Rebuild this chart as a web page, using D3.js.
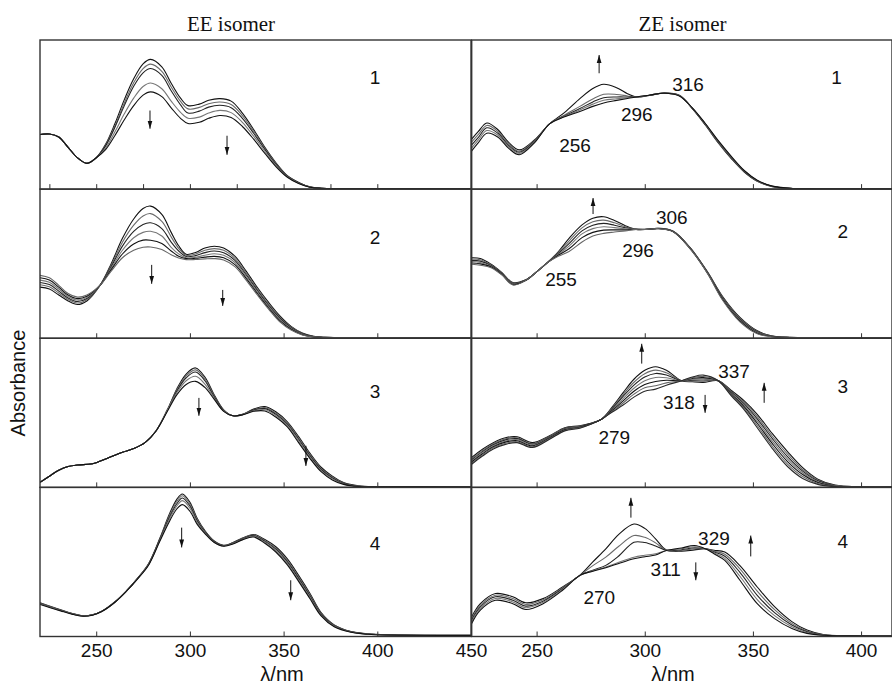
<!DOCTYPE html>
<html>
<head>
<meta charset="utf-8">
<script src="https://cdn.jsdelivr.net/npm/d3@7"></script>
<style>
  body { margin: 0; background: #fff; }
  svg { display: block; }
  .tick text { font-family: "Liberation Sans", Arial, sans-serif; font-size: 19px; fill: #111; }
  .tick line { stroke: #333; }
</style>
</head>
<body>
<svg id="chart" width="892" height="687"></svg>
<script>
// ---- data: absorbance in % of panel height ----
const wlEE1 = [220,225,230,235,240,245,250,255,260,265,270,275,279,285,290,295,299,305,310,316,322,328,334,340,346,352,358,364,370,380,400,450];
const absEE1 = [
  [36.6,37,35,28,21,17.3,21,30,44,60,74,84,87,82,71,61,56,57,59.6,60.7,59,51,40,28,17.5,9,4.5,1.5,0.6,0.4,0.4,0.3],
  [36.6,37,35,28,21,17.3,21,29.5,42.5,57.8,71.3,80.8,83.8,79,68.5,58.8,53.8,54.8,57.3,58.4,56.8,49.3,38.8,27.3,17,8.8,4.3,1.5,0.6,0.4,0.4,0.3],
  [36.6,37,35,28,21,17.3,21,29,41.5,56,69,78,80.9,76.3,66,56.5,51,52.3,55,56.2,54.6,47.5,37.5,26.6,16.5,8.6,4.2,1.4,0.6,0.4,0.4,0.3],
  [36.6,37,35,28,21,17.3,21,27.5,38.5,50.5,61,68.8,71.2,67.3,59,51.5,47.5,48.3,51,52.8,51.3,44.8,35.5,25.4,15.8,8.3,4,1.4,0.6,0.4,0.4,0.3],
  [36.6,37,35,28,21,17.3,21,26.5,36,46.5,56,63,65.2,62,54.5,47.5,44,44.8,47.5,49.4,48,42,33.5,24,15,8,3.8,1.3,0.6,0.4,0.4,0.3]
];

const wlEE2 = [220,225,230,235,240,245,252,258,264,270,275,279,285,290,294,298,303,308,313,318,324,330,336,342,348,354,360,366,372,380,400,450];
const absEE2 = [
  [34.3,33,29,25,22.6,25,35.4,50,67,80,87,88.6,83,71,62,56.3,57.5,60.5,61.7,60.5,55,45,34,24,15,8,3.5,1.3,0.6,0.5,0.4,0.3],
  [35.9,34.5,30.3,26,23.6,25.8,35.4,49,64.4,75.8,82,83.6,78.3,68,60.3,55.6,56.5,59,60.1,59,53.6,43.8,33,23,14.2,7.5,3.2,1.2,0.6,0.5,0.4,0.3],
  [37.4,36,31.6,27,24.6,26.6,35.4,48,61.8,71.6,76.3,77.4,73.5,64.5,58.5,54.8,55.4,57.4,58.5,57.4,52.2,42.6,32,22,13.4,7,3,1.1,0.6,0.5,0.4,0.3],
  [39,37.5,33,28,25.6,27.4,35.4,47,59,67.4,71,71.7,68.6,61,56.6,54,54.3,55.7,56.7,55.6,50.8,41.4,31,21.2,12.6,6.5,2.7,1,0.5,0.5,0.4,0.3],
  [40.6,39,34.3,29,26.6,28.2,35.4,46,56.5,63.2,65.8,65.7,63.5,58.5,55,53.4,53.6,54.4,54.9,54,49.4,40.2,30,20.3,11.8,6,2.4,0.9,0.5,0.4,0.4,0.3],
  [42.2,40.5,35.5,30,27.6,29,35.4,45,54,59,61,61.2,59.5,56,53.8,52.7,52.8,53.2,53.4,52.5,48,39,29,19.5,11,5.5,2.2,0.9,0.5,0.4,0.4,0.3]
];

const wlEE3 = [220,225,230,235,240,248,256,264,270,276,282,288,293,298,303,308,313,318,323,328,334,340,346,352,358,364,370,376,382,390,400,450];
const absEE3 = [
  [3.4,7.5,11.5,14,15,15.8,19.5,23.5,26,30,38,52,66,76,80.1,74,62,52,48,49,52.5,54.2,50.5,44,34,23,13.5,7.5,3.2,1,0.4,0.3],
  [3.4,7.5,11.5,14,15,15.8,19.5,23.5,26,30,38,52,65.3,74.8,78.8,72.8,61.3,51.8,48,48.9,52.1,53.5,49.7,43.2,33.2,22.2,12.8,7,3,0.9,0.4,0.3],
  [3.4,7.5,11.5,14,15,15.8,19.5,23.5,26,30,38,52,64.5,73.5,77.4,71.5,60.6,51.5,48,48.8,51.8,52.8,48.9,42.4,32.3,21.3,12,6.3,2.6,0.8,0.4,0.3],
  [3.4,7.5,11.5,14,15,15.8,19.5,23.5,26,30,38,52,63.4,71.5,74.5,69.3,59.8,51.2,48,48.7,51.4,52,48,41.5,31.2,20.4,11.2,5.7,2.3,0.7,0.4,0.3],
  [3.4,7.5,11.5,14,15,15.8,19.5,23.5,26,30,38,51,62,69,71.1,67,59,51,48,48.6,51,51.2,47,40.5,30,19.5,10.5,5,2,0.6,0.4,0.3]
];

const wlEE4 = [220,225,231,237,243,248,253,260,266,272,278,284,289,293,296,300,304,308,313,318,323,328,334,340,346,352,358,364,370,377,386,395,405,450];
const absEE4 = [
  [22.7,20.5,18,15.5,14,14.6,17,23.3,30.5,39,49,66,82,92,95.6,90,79,71,64,61.1,63,66,68.4,65,60,52,41,29,16,7.8,3.3,1.8,1.2,0.8],
  [22.4,20.3,17.8,15.4,13.9,14.5,16.9,23.2,30.4,38.9,48.8,65.6,81,90.5,94.4,88.8,78.2,70.6,63.8,61,62.8,65.7,68,64.4,59.2,51,40,28.2,15.5,7.5,3.2,1.7,1.1,0.8],
  [22.1,20,17.6,15.3,13.8,14.5,16.9,23.1,30.3,38.8,48.5,65.2,79.8,89,92.9,87.5,77.3,70.2,63.5,60.9,62.6,65.4,67.6,63.8,58.4,50,39,27.3,15,7.2,3.1,1.7,1.1,0.8],
  [21.8,19.8,17.4,15.2,13.7,14.4,16.8,23,30.2,38.6,48.2,64.6,78.5,87.5,91.1,86,76.2,69.6,63.2,60.7,62.3,65.1,67.2,63.2,57.5,49,38,26.4,14.4,6.9,3,1.6,1,0.7],
  [21.5,19.5,17.2,15,13.6,14.3,16.8,23,30.2,38.5,48,64,77,85.5,88.4,84,75,69,63,60.5,62,64.8,66.7,62.5,56.5,48,37,25.5,13.8,6.5,2.8,1.5,1,0.7]
];

const wlZE1 = [220,223,227,232,237,242,249,256,263,270,276,281,287,292,296,302,309,316,322,328,334,340,346,352,359,367,380,400,420];
const absZE1 = [
  [33.6,38.5,44.3,40,31.5,26.3,33,43.8,51.5,60.7,67.5,70.3,68,64,61.8,62.8,64.5,63,54,43,31,20.5,11.5,5.3,1.7,0.5,0.3,0.2,0.2],
  [31.6,36.5,42.7,38.8,30.5,25.4,32.5,43.8,49.8,55.5,60.5,63.6,63.5,62.5,61.8,62.8,64.4,62.8,54.1,43.3,31.4,20.9,11.8,5.5,1.8,0.5,0.3,0.2,0.2],
  [29.6,34.5,41.1,37.6,29.4,24.7,32,43.8,49.2,54,58.5,61.3,61.8,61.8,61.8,62.9,64.4,62.7,54.2,43.6,31.8,21.3,12,5.7,1.9,0.5,0.3,0.2,0.2],
  [27.6,32.8,39.3,36.3,28.5,24,31.5,43.8,48.8,53,57,59.6,60.6,61.3,61.8,63,64.3,62.6,54.3,43.8,32.2,21.6,12.2,5.8,1.9,0.6,0.3,0.2,0.2],
  [25.7,31,37.5,35,27.5,23.1,31,43.8,48.5,52,55.5,57.8,59.5,60.8,61.8,63,64.3,62.5,54.5,44,32.5,22,12.5,6,2,0.6,0.3,0.2,0.2]
];

const wlZE2 = [220,224,229,234,239,245,250,255,260,265,271,276,281,286,291,296,301,306,313,321,329,336,344,352,359,367,380,400,420];
const absZE2 = [
  [54,53.5,49.6,44,37.3,39.2,44.5,50.7,58,67,76,80.5,81.5,79,75.5,73,73,73.7,71.9,60.7,44.5,28,14,5,1.5,0.6,0.4,0.3,0.3],
  [53.1,52.6,49.1,43.7,37,39.1,44.5,50.7,57.4,65.2,74,78.1,79.2,77.4,74.8,73,73,73.7,71.8,60.6,44.3,27.5,13.4,4.6,1.4,0.6,0.4,0.3,0.3],
  [52.2,51.7,48.7,43.4,36.7,39,44.5,50.7,56.8,63.5,72,75.8,77,75.8,74.1,73,73,73.6,71.7,60.4,44.1,27,12.8,4.2,1.3,0.5,0.4,0.3,0.3],
  [51.4,50.8,48.2,43,36.4,38.9,44.5,50.7,56.2,61.8,70,73.5,74.8,74.2,73.4,73,73,73.6,71.7,60.3,43.9,26.5,12.2,3.8,1.2,0.5,0.4,0.3,0.3],
  [50.5,49.9,47.8,42.7,36,38.8,44.5,50.7,55.6,60,67.5,71,72.5,72.7,72.7,73,73,73.5,71.6,60.1,43.7,26,11.6,3.4,1.1,0.5,0.4,0.3,0.3],
  [49.6,49,47.3,42.4,35.7,38.8,44.5,50.7,55,58.2,64.5,68.5,70.3,71.2,72,73,73,73.5,71.5,60,43.5,25.5,11,3,1,0.5,0.4,0.3,0.3]
];

const wlZE3 = [220,225,230,236,241,248,256,263,270,275,280,285,290,295,300,305,310,317,322,327,334,340,346,352,359,366,373,380,388,400,420];
const absZE3 = [
  [20,25.6,30,33.4,33.9,30,34.6,40,41.3,43,45.7,54,63.5,72.5,78.5,80.9,78.5,71.5,70.8,70.4,71.5,65,58,49,36,24,13.2,5.5,1.5,0.3,0.2],
  [19.2,24.8,29.3,32.7,33.3,29.4,34.2,39.6,41,42.9,45.7,53.4,62.2,70.5,76.2,78.6,76.8,71.5,71.3,71.2,71.5,64.4,57,47.5,34.3,22.3,12,5,1.3,0.3,0.2],
  [18.5,24,28.6,32,32.7,28.9,33.8,39.3,40.7,42.8,45.7,52.8,61,68.6,74,76.4,75.4,71.5,71.9,72,71.5,63.8,56,46,32.7,20.6,10.9,4.4,1.1,0.3,0.2],
  [17.8,23.3,27.9,31.2,32,28.4,33.5,39,40.5,42.7,45.7,52.2,59.5,66.5,71.5,73.7,73.5,71.5,72.5,72.8,71.5,63.2,55,44.5,31,19,9.8,3.8,1,0.3,0.2],
  [17,22.5,27.2,30.5,31.3,27.8,33.1,38.6,40.3,42.6,45.7,51.6,58,64.5,69,71,71.8,71.5,73,73.6,71.5,62.6,54,43,29.3,17.3,8.6,3.2,0.8,0.2,0.2],
  [16.3,21.7,26.5,29.7,30.6,27.2,32.7,38.2,40,42.4,45.7,51,56.6,62.5,66.8,68.1,70.1,71.5,73.5,74.4,71.5,62,53,41.5,27.6,15.6,7.3,2.6,0.7,0.2,0.2],
  [15.5,21,25.8,29,30,26.7,32.3,37.9,39.7,42.3,45.7,50.5,55.2,60.5,64.5,65.9,68.5,71.5,74,75.3,71.5,61.4,52,40,26,14,6,2,0.5,0.2,0.2]
];

const wlZE4 = [220,224,231,239,245,253,262,270,276,282,288,295,300,305,310,317,323,328,332,337,344,352,360,368,375,383,395,420];
const absZE4 = [
  [13.2,22,28.8,26.6,22.6,25.4,33.2,41,50,58.8,68.5,75.4,72.5,65.5,58,57.2,58.1,58.8,57.8,56.6,47.5,33.2,20,10,4.3,1.2,0.5,0.4],
  [12.1,21,27.7,25.5,21.5,24.6,32.7,41,47.5,53.2,60.5,67.7,66.5,62.8,57.8,57.7,58.8,58.8,57.2,55.2,45.3,30.4,18,8.8,3.7,1.1,0.5,0.4],
  [11,19.9,26.6,24.3,20.4,23.7,32.1,41,44.5,47.7,54,63.2,63,60.7,57.7,58.2,59.5,58.8,56.7,53.8,43,27.6,16,7.7,3.2,1,0.4,0.4],
  [9.9,18.8,25.5,23.2,19.3,22.9,31.6,41,44,46.6,49.8,53.2,54.5,55.5,57.7,58.8,60.2,58.8,56.1,52.4,40.4,24.8,14,6.5,2.6,0.9,0.4,0.4],
  [8.8,17.7,24.3,22,18.1,22,31,41,43.8,46.1,49,52.1,53.5,54.6,57.7,59.4,61,58.8,55.5,51,37.7,22,12,5.4,2.1,0.8,0.4,0.4]
];

// arrows: wavelength, tail value, head value (same % units)
const arrowsEE1 = [{wl: 278.7, from: 52.7, to: 40.5}, {wl: 319.8, from: 35.8, to: 23}];
const arrowsEE2 = [{wl: 279.6, from: 49.2, to: 36.5}, {wl: 317.5, from: 32.4, to: 21.7}];
const arrowsEE3 = [{wl: 304.8, from: 60, to: 48}, {wl: 361.9, from: 27.9, to: 14.4}];
const arrowsEE4 = [{wl: 295.6, from: 73, to: 59.7}, {wl: 353.8, from: 37.7, to: 24.3}];
const arrowsZE1 = [{wl: 278.9, from: 77.7, to: 89.9}];
const arrowsZE2 = [{wl: 276.1, from: 83.3, to: 94}];
const arrowsZE3 = [{wl: 298.6, from: 83, to: 96.3}, {wl: 327.9, from: 62, to: 50}, {wl: 355.2, from: 56.7, to: 70.1}];
const arrowsZE4 = [{wl: 293.6, from: 79.7, to: 93}, {wl: 323.6, from: 49.7, to: 37.7}, {wl: 349, from: 53.7, to: 67.7}];

// isosbestic point labels
const labelsZE1 = [{t: "256", wl: 267.8, v: 29.7}, {t: "296", wl: 296.3, v: 50}, {t: "316", wl: 320, v: 70.3}];
const labelsZE2 = [{t: "255", wl: 261.3, v: 39.8}, {t: "296", wl: 296.9, v: 59.2}, {t: "306", wl: 312.5, v: 81.3}];
const labelsZE3 = [{t: "279", wl: 285.9, v: 33.4}, {t: "318", wl: 315.8, v: 57.4}, {t: "337", wl: 341.3, v: 78.2}];
const labelsZE4 = [{t: "270", wl: 279, v: 26.7}, {t: "311", wl: 309.7, v: 45}, {t: "329", wl: 332, v: 65.7}];

const panelNames = ["1", "2", "3", "4"];
const panelNameEE = [{wl: 398.8, v: 75.2}, {wl: 398.8, v: 67.6}, {wl: 398.8, v: 64.8}, {wl: 398.8, v: 62.3}];
const panelNameZE = [{wl: 388.7, v: 75.2}, {wl: 391.6, v: 71.9}, {wl: 391.6, v: 68.1}, {wl: 391.6, v: 64}];
const columnTitles = ["EE isomer", "ZE isomer"];
const ticksMajor = [250, 300, 350, 400];

// ---- layout ----
const svg = d3.select("#chart");
const sans = '"Liberation Sans", Arial, sans-serif';
const serif = '"Liberation Serif", "Times New Roman", serif';
const plotTop = 40, plotBottom = 636.5;
const rowH = (plotBottom - plotTop) / 4;
const cols = [
  {x0: 40, x1: 471, domain: [220, 450]},
  {x0: 471.7, x1: 892, domain: [220, 414.3]}
];
const lineColors = ["#111", "#6a6a6a", "#222", "#777", "#111", "#666", "#2a2a2a"];

const panels = [
  {col: 0, row: 0, wl: wlEE1, abs: absEE1, arrows: arrowsEE1, labels: [], name: panelNameEE[0]},
  {col: 0, row: 1, wl: wlEE2, abs: absEE2, arrows: arrowsEE2, labels: [], name: panelNameEE[1]},
  {col: 0, row: 2, wl: wlEE3, abs: absEE3, arrows: arrowsEE3, labels: [], name: panelNameEE[2]},
  {col: 0, row: 3, wl: wlEE4, abs: absEE4, arrows: arrowsEE4, labels: [], name: panelNameEE[3]},
  {col: 1, row: 0, wl: wlZE1, abs: absZE1, arrows: arrowsZE1, labels: labelsZE1, name: panelNameZE[0]},
  {col: 1, row: 1, wl: wlZE2, abs: absZE2, arrows: arrowsZE2, labels: labelsZE2, name: panelNameZE[1]},
  {col: 1, row: 2, wl: wlZE3, abs: absZE3, arrows: arrowsZE3, labels: labelsZE3, name: panelNameZE[2]},
  {col: 1, row: 3, wl: wlZE4, abs: absZE4, arrows: arrowsZE4, labels: labelsZE4, name: panelNameZE[3]}
];

const defs = svg.append("defs");
defs.append("marker")
    .attr("id", "head")
    .attr("viewBox", "0 0 8 6")
    .attr("refX", 8).attr("refY", 3)
    .attr("markerWidth", 8).attr("markerHeight", 6)
    .attr("markerUnits", "userSpaceOnUse")
    .attr("orient", "auto")
  .append("path")
    .attr("d", "M0,0.6 L8,3 L0,5.4 Z")
    .attr("fill", "#111");

panels.forEach((p, i) => {
    const c = cols[p.col];
    const y0 = plotTop + p.row * rowH, y1 = y0 + rowH;
    const x = d3.scaleLinear().domain(c.domain).range([c.x0, c.x1]);
    const y = d3.scaleLinear().domain([0, 100]).range([y1, y0]);

    defs.append("clipPath").attr("id", "clip" + i)
      .append("rect")
        .attr("x", c.x0).attr("y", y0)
        .attr("width", c.x1 - c.x0).attr("height", rowH);

    const g = svg.append("g");

    // spectra
    const line = d3.line()
        .x((d, j) => x(p.wl[j]))
        .y(d => y(d))
        .curve(d3.curveCatmullRom.alpha(0.5));
    g.append("g")
        .attr("clip-path", `url(#clip${i})`)
      .selectAll("path")
      .data(p.abs)
      .enter()
      .append("path")
        .attr("d", line)
        .attr("fill", "none")
        .attr("stroke", (d, j) => lineColors[j % lineColors.length])
        .attr("stroke-width", 1.1);

    // bottom axis, ticks pointing inwards
    let tv = ticksMajor.slice();
    if (p.col === 0 && p.row === 0) tv = d3.range(225, 401, 25);
    if (p.col === 0 && p.row === 3) tv = ticksMajor.concat([450]);
    const axis = d3.axisBottom(x)
        .tickValues(tv)
        .tickSize(-5)
        .tickPadding(7)
        .tickFormat(p.row === 3 ? d3.format("d") : "");
    const ag = g.append("g")
        .attr("transform", `translate(0,${y1})`)
        .call(axis);
    ag.select(".domain").remove();

    // frame
    g.append("rect")
        .attr("x", c.x0).attr("y", y0)
        .attr("width", c.x1 - c.x0).attr("height", rowH)
        .attr("fill", "none")
        .attr("stroke", "#333")
        .attr("stroke-width", 1.4);

    // arrows
    g.selectAll("line.arrow")
      .data(p.arrows)
      .enter()
      .append("line")
        .attr("class", "arrow")
        .attr("x1", d => x(d.wl)).attr("x2", d => x(d.wl))
        .attr("y1", d => y(d.from)).attr("y2", d => y(d.to))
        .attr("stroke", "#111")
        .attr("stroke-width", 1)
        .attr("marker-end", "url(#head)");

    // isosbestic labels
    g.selectAll("text.iso")
      .data(p.labels)
      .enter()
      .append("text")
        .attr("class", "iso")
        .attr("x", d => x(d.wl))
        .attr("y", d => y(d.v))
        .attr("dy", "0.36em")
        .attr("text-anchor", "middle")
        .style("font-family", sans)
        .style("font-size", "19px")
        .attr("fill", "#111")
        .text(d => d.t);

    // panel number
    g.append("text")
        .attr("x", x(p.name.wl))
        .attr("y", y(p.name.v))
        .attr("dy", "0.36em")
        .attr("text-anchor", "middle")
        .style("font-family", sans)
        .style("font-size", "19px")
        .attr("fill", "#111")
        .text(panelNames[p.row]);
});

// column titles
svg.selectAll("text.title")
  .data(columnTitles)
  .enter()
  .append("text")
    .attr("class", "title")
    .attr("x", (d, i) => i === 0 ? 231 : 682.5)
    .attr("y", 31)
    .attr("text-anchor", "middle")
    .style("font-family", serif)
    .style("font-size", "21px")
    .attr("fill", "#111")
    .text(d => d);

// axis titles
[282, 673].forEach(cx => {
    svg.append("text")
        .attr("x", cx).attr("y", 681)
        .attr("text-anchor", "middle")
        .style("font-family", sans)
        .style("font-size", "20px")
        .attr("fill", "#111")
        .text("λ/nm");
});
svg.append("text")
    .attr("transform", "translate(25,383) rotate(-90)")
    .attr("text-anchor", "middle")
    .style("font-family", sans)
    .style("font-size", "20px")
    .attr("fill", "#111")
    .text("Absorbance");
</script>
</body>
</html>
